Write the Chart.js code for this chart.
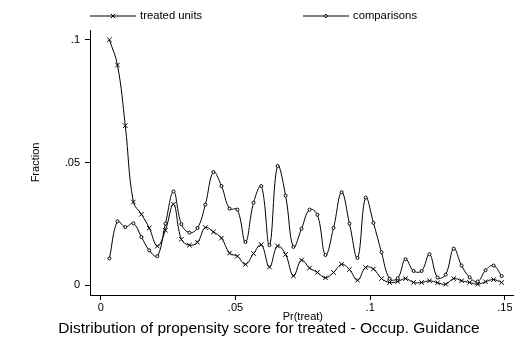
<!DOCTYPE html>
<html>
<head>
<meta charset="utf-8">
<script src="https://cdn.jsdelivr.net/npm/chart.js@4.4.0/dist/chart.umd.min.js"></script>
<style>
  html, body { margin: 0; padding: 0; background: #fff; }
  #wrap { width: 530px; height: 344px; }
</style>
</head>
<body>
<div id="wrap"><canvas id="pscoreChart" width="530" height="344"></canvas></div>
<script>
// propensity score bins (x)
var scores = [0.0032, 0.0062, 0.0091, 0.0121, 0.0151, 0.0180, 0.0210, 0.0240, 0.0270, 0.0299,
              0.0329, 0.0359, 0.0388, 0.0418, 0.0448, 0.0478, 0.0507, 0.0537, 0.0567, 0.0596,
              0.0626, 0.0656, 0.0686, 0.0715, 0.0745, 0.0775, 0.0804, 0.0834, 0.0864, 0.0894,
              0.0923, 0.0953, 0.0983, 0.1012, 0.1042, 0.1072, 0.1102, 0.1131, 0.1161, 0.1191,
              0.1220, 0.1250, 0.1280, 0.1310, 0.1339, 0.1369, 0.1399, 0.1428, 0.1458, 0.1488];

var treated = [0.1000, 0.0897, 0.0650, 0.0339, 0.0289, 0.0233, 0.0159, 0.0224, 0.0330, 0.0187,
               0.0163, 0.0175, 0.0235, 0.0217, 0.0192, 0.0131, 0.0118, 0.0085, 0.0129, 0.0165,
               0.0074, 0.0160, 0.0125, 0.0038, 0.0102, 0.0070, 0.0052, 0.0030, 0.0052, 0.0085,
               0.0064, 0.0020, 0.0072, 0.0066, 0.0027, 0.0011, 0.0015, 0.0027, 0.0011, 0.0011,
               0.0018, 0.0010, 0.0004, 0.0027, 0.0018, 0.0011, 0.0004, 0.0014, 0.0023, 0.0011];

var comparisons = [0.0109, 0.0260, 0.0237, 0.0252, 0.0196, 0.0142, 0.0118, 0.0251, 0.0382, 0.0249,
                   0.0214, 0.0233, 0.0328, 0.0461, 0.0404, 0.0312, 0.0308, 0.0176, 0.0336, 0.0404,
                   0.0163, 0.0486, 0.0365, 0.0156, 0.0230, 0.0308, 0.0287, 0.0123, 0.0234, 0.0379,
                   0.0251, 0.0111, 0.0357, 0.0254, 0.0134, 0.0026, 0.0028, 0.0106, 0.0058, 0.0058,
                   0.0126, 0.0031, 0.0043, 0.0149, 0.0080, 0.0032, 0.0015, 0.0061, 0.0080, 0.0037];

var xTicks = [0, 0.05, 0.1, 0.15];
var xTickLabels = ["0", ".05", ".1", ".15"];
var yTicks = [0, 0.05, 0.1];
var yTickLabels = ["0", ".05", ".1"];

var seriesNames = ["treated units", "comparisons"];
var chartTitle = "Distribution of propensity score for treated - Occup. Guidance";
var xTitle = "Pr(treat)";
var yTitle = "Fraction";

var FONT = "'Liberation Sans', Arial, sans-serif";

function toPoints(xs, ys) {
    var pts = [];
    for (var i = 0; i < xs.length; i++)
        pts.push({ x: xs[i], y: ys[i] });
    return pts;
}

function drawCross(ctx, x, y, r) {
    ctx.beginPath();
    ctx.moveTo(x - r, y - r); ctx.lineTo(x + r, y + r);
    ctx.moveTo(x + r, y - r); ctx.lineTo(x - r, y + r);
    ctx.stroke();
}

function drawRing(ctx, x, y, r) {
    ctx.beginPath();
    ctx.arc(x, y, r, 0, Math.PI * 2);
    ctx.fillStyle = "#fff";
    ctx.fill();
    ctx.stroke();
}

// legend, axis titles and caption, Stata style
var textPlugin = {
    id: "stataText",
    afterDraw: function (chart) {
        var ctx = chart.ctx;
        var area = chart.chartArea;
        ctx.save();
        ctx.strokeStyle = "#000";
        ctx.lineWidth = 1;
        ctx.fillStyle = "#000";
        ctx.font = "11.3px " + FONT;
        ctx.textBaseline = "middle";
        ctx.textAlign = "left";

        // legend
        var ly = 16;
        ctx.beginPath(); ctx.moveTo(area.left, ly); ctx.lineTo(area.left + 46, ly); ctx.stroke();
        drawCross(ctx, area.left + 23, ly, 2.2);
        ctx.fillStyle = "#000";
        ctx.fillText(seriesNames[0], area.left + 50, ly);

        var lx = 303;
        ctx.beginPath(); ctx.moveTo(lx, ly); ctx.lineTo(lx + 46, ly); ctx.stroke();
        drawRing(ctx, lx + 23, ly, 1.4);
        ctx.fillStyle = "#000";
        ctx.fillText(seriesNames[1], lx + 50, ly);

        // y title
        ctx.save();
        ctx.translate(36, (area.top + area.bottom) / 2);
        ctx.rotate(-Math.PI / 2);
        ctx.textAlign = "center";
        ctx.font = "11px " + FONT;
        ctx.fillText(yTitle, 0, 0);
        ctx.restore();

        // x title and caption
        var cx = (chart.scales.x.getPixelForValue(0) + chart.scales.x.getPixelForValue(0.15)) / 2;
        ctx.textAlign = "center";
        ctx.textBaseline = "alphabetic";
        ctx.font = "11px " + FONT;
        ctx.fillText(xTitle, cx, 320);
        ctx.font = "15.5px " + FONT;
        ctx.fillText(chartTitle, 269, 333);
        ctx.restore();
    }
};

var chart = new Chart("pscoreChart", {
    type: "line",
    data: {
        datasets: [{
            label: seriesNames[0],
            data: toPoints(scores, treated),
            borderColor: "#000",
            borderWidth: 1,
            tension: 0.4,
            pointStyle: "crossRot",
            pointRadius: 3.2,
            pointBorderWidth: 1,
            pointBorderColor: "#000",
            pointBackgroundColor: "#000"
        }, {
            label: seriesNames[1],
            data: toPoints(scores, comparisons),
            borderColor: "#000",
            borderWidth: 1,
            tension: 0.4,
            pointStyle: "circle",
            pointRadius: 1.5,
            pointBorderWidth: 1,
            pointBorderColor: "#000",
            pointBackgroundColor: "#fff"
        }]
    },
    options: {
        responsive: false,
        animation: false,
        events: [],
        layout: { padding: { left: 0, right: 17, top: 30, bottom: 29 } },
        plugins: {
            legend: { display: false },
            title: { display: false },
            tooltip: { enabled: false }
        },
        scales: {
            x: {
                type: "linear",
                min: -0.004,
                max: 0.153,
                afterBuildTicks: function (scale) {
                    scale.ticks = xTicks.map(function (v) { return { value: v }; });
                },
                afterFit: function (scale) { scale.height = 20; },
                ticks: {
                    autoSkip: false,
                    maxRotation: 0,
                    padding: 1,
                    color: "#000",
                    font: { family: FONT, size: 11 },
                    callback: function (v) {
                        var i = xTicks.indexOf(v);
                        return i >= 0 ? xTickLabels[i] : "";
                    }
                },
                grid: { display: true, drawOnChartArea: false, drawTicks: true, tickLength: 5, color: "#000", lineWidth: 1 },
                border: { display: true, color: "#000", width: 1 }
            },
            y: {
                min: -0.004,
                max: 0.104,
                afterBuildTicks: function (scale) {
                    scale.ticks = yTicks.map(function (v) { return { value: v }; });
                },
                afterFit: function (scale) { scale.width = 90; },
                ticks: {
                    autoSkip: false,
                    padding: 5,
                    color: "#000",
                    font: { family: FONT, size: 11 },
                    callback: function (v) {
                        var i = yTicks.indexOf(v);
                        return i >= 0 ? yTickLabels[i] : "";
                    }
                },
                grid: { display: true, drawOnChartArea: false, drawTicks: true, tickLength: 5, color: "#000", lineWidth: 1 },
                border: { display: true, color: "#000", width: 1 }
            }
        }
    },
    plugins: [textPlugin]
});
</script>
</body>
</html>
